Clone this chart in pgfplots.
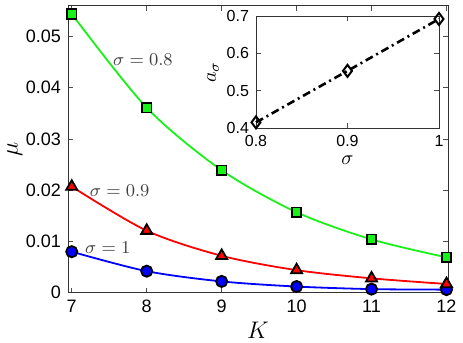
\documentclass[border=0pt]{standalone}
\usepackage[no-math]{fontspec}
\setmainfont{Liberation Sans}
\usepackage{pgfplots}
\pgfplotsset{compat=1.18}

\definecolor{mgreen}{rgb}{0.1,0.95,0.1}
\definecolor{mred}{rgb}{1,0,0}
\definecolor{mblue}{rgb}{0,0,1}

\pgfplotsset{
  matlab/.style={
    axis line style={black!80, line width=0.4pt},
    tick style={black!70, line width=0.4pt},
    tick align=inside, major tick length=2.5pt,
    /pgf/number format/assume math mode=true,
    /pgf/number format/fixed,
    scaled ticks=false,
  },
}

\begin{document}
\begin{tikzpicture}
\useasboundingbox (-34pt,-25.15pt) rectangle (197.5pt,146.35pt);
% main plot
\begin{axis}[matlab,
  at={(0pt,0pt)}, anchor=south west, scale only axis,
  width=190pt, height=143.5pt,
  xmin=6.95, xmax=12.02, ymin=0, ymax=0.056,
  xtick={7,8,9,10,11,12},
  ytick={0,0.01,0.02,0.03,0.04,0.05},
  yticklabel style={/pgf/number format/precision=2},
  ticklabel style={font=\fontsize{9}{10}\selectfont},
  xlabel={$K$}, ylabel={$\mu$},
  label style={font=\fontsize{12}{14}\selectfont},
  xlabel style={yshift=2pt},
  ylabel style={yshift=-5pt},
  clip=false,
]
\addplot[mgreen, line width=0.9pt, smooth, mark=square*,
  mark size=2.4pt, mark options={fill=mgreen, draw=black, line width=0.9pt}]
  coordinates {(7,0.0544) (8,0.0361) (9,0.0239) (10,0.0157) (11,0.0104) (12,0.0069)};
\addplot[mblue, line width=0.9pt, smooth, mark=*,
  mark size=2.8pt, mark options={fill=mblue, draw=black, line width=0.9pt}]
  coordinates {(7,0.0080) (8,0.0042) (9,0.0022) (10,0.0012) (11,0.0007) (12,0.0006)};
\addplot[mred, line width=0.9pt, smooth, mark=triangle*,
  mark size=3.2pt, mark options={fill=mred, draw=black, line width=0.9pt}]
  coordinates {(7,0.0207) (8,0.0121) (9,0.0072) (10,0.0044) (11,0.0028) (12,0.0017)};
\node[text=black!75, font=\fontsize{9}{10}\selectfont] at (axis cs:7.95,0.0455) {$\sigma = 0.8$};
\node[text=black!75, font=\fontsize{9}{10}\selectfont] at (axis cs:7.64,0.0200) {$\sigma = 0.9$};
\node[text=black!75, font=\fontsize{9}{10}\selectfont] at (axis cs:7.48,0.0088) {$\sigma = 1$};
\end{axis}
% inset
\begin{axis}[matlab,
  at={(94pt,82.35pt)}, anchor=south west, scale only axis,
  width=91.5pt, height=56pt,
  xmin=0.8, xmax=1, ymin=0.4, ymax=0.7,
  xtick={0.8,0.9,1}, ytick={0.4,0.5,0.6,0.7},
  ticklabel style={font=\fontsize{8}{9}\selectfont},
  axis background/.style={fill=white},
  xlabel={$\sigma$}, ylabel={$a_\sigma$},
  label style={font=\fontsize{10}{12}\selectfont},
  xlabel style={yshift=2pt},
  ylabel style={yshift=-3pt},
  clip=false,
]
\addplot[black, line width=1.3pt, dash pattern=on 4pt off 2pt on 1pt off 2pt,
  mark=diamond, mark size=3pt, mark options={solid, fill=white, line width=1pt}]
  coordinates {(0.8,0.415) (0.9,0.553) (1,0.692)};
\end{axis}
\end{tikzpicture}
\end{document}
